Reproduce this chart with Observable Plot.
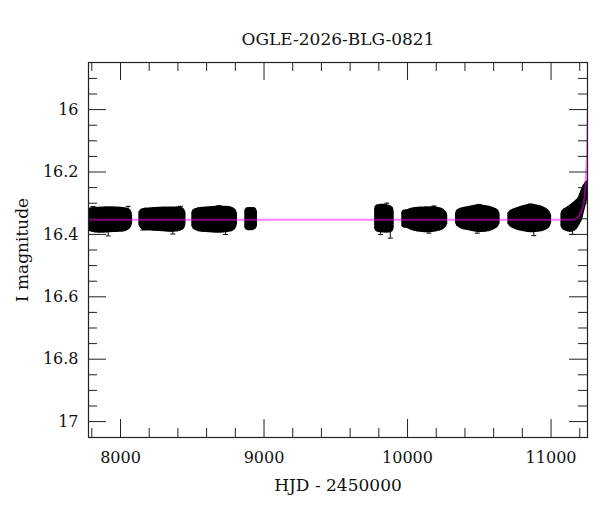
<!DOCTYPE html>
<html><head><meta charset="utf-8">
<script src="https://cdn.jsdelivr.net/npm/d3@7"></script>
<script src="https://cdn.jsdelivr.net/npm/@observablehq/plot@0.6"></script>
<style>html,body{margin:0;padding:0;background:#fff;} svg{display:block;}</style>
</head><body><div id="chart"></div>
<script>
const chartTitle = "OGLE-2026-BLG-0821";
const xLabel = "HJD - 2450000";
const yLabel = "I magnitude";

const xMajor = [8000, 9000, 10000, 11000];
const xMinor = [7800, 8200, 8400, 8600, 8800, 9200, 9400, 9600, 9800, 10200, 10400, 10600, 10800, 11200];
const yMajor = [16, 16.2, 16.4, 16.6, 16.8, 17];
const yMinor = [15.9, 15.95, 16.05, 16.1, 16.15, 16.25, 16.3, 16.35, 16.45, 16.5, 16.55, 16.65, 16.7, 16.75, 16.85, 16.9, 16.95];

// baseline magnitude of the source
const baseline = 16.353;

// observing seasons: envelope of the dense photometry (day, brightest, faintest)
const bandSeason = [
  1,1,1,1,1,1,1,1,1,
  2,2,2,2,2,2,2,2,2,
  3,3,3,3,3,3,3,3,3,
  4,4,4,4,4,
  5,5,5,5,5,5,
  6,6,6,6,6,6,6,6,6,6,
  7,7,7,7,7,7,7,7,7,
  8,8,8,8,8,8,8,8,8,
  9,9,9,9,9,9,9,9,9];
const bandDay = [
  7770,7805,7860,7930,7990,8030,8060,8072,8077,
  8135,8145,8165,8220,8290,8360,8418,8440,8449,
  8504,8512,8546,8615,8685,8755,8785,8802,8808,
  8873,8880,8910,8938,8947,
  9778,9786,9830,9870,9893,9900,
  9967,9975,10000,10030,10090,10160,10207,10242,10265,10273,
  10342,10348,10381,10439,10486,10555,10602,10630,10638,
  10706,10718,10764,10811,10857,10904,10950,10985,10997,
  11076,11085,11108,11136,11171,11192,11213,11227,11250];
const bandTop = [
  16.320,16.318,16.316,16.315,16.316,16.318,16.322,16.330,16.340,
  16.330,16.324,16.320,16.318,16.316,16.316,16.316,16.322,16.332,
  16.332,16.324,16.318,16.315,16.313,16.314,16.318,16.326,16.336,
  16.326,16.319,16.317,16.319,16.328,
  16.318,16.310,16.307,16.310,16.316,16.330,
  16.330,16.326,16.324,16.319,16.316,16.315,16.316,16.321,16.330,16.340,
  16.334,16.326,16.318,16.313,16.309,16.312,16.318,16.326,16.338,
  16.334,16.327,16.318,16.311,16.307,16.309,16.316,16.328,16.342,
  16.335,16.325,16.318,16.309,16.296,16.287,16.264,16.248,16.232];
const bandBottom = [
  16.384,16.390,16.393,16.391,16.390,16.388,16.381,16.372,16.364,
  16.368,16.378,16.384,16.386,16.388,16.390,16.386,16.380,16.366,
  16.372,16.380,16.388,16.391,16.393,16.390,16.386,16.376,16.366,
  16.376,16.383,16.385,16.381,16.372,
  16.380,16.388,16.392,16.392,16.388,16.378,
  16.372,16.376,16.378,16.384,16.390,16.391,16.388,16.383,16.374,16.366,
  16.362,16.370,16.380,16.386,16.390,16.389,16.382,16.372,16.362,
  16.364,16.372,16.383,16.388,16.391,16.390,16.386,16.376,16.362,
  16.372,16.381,16.387,16.390,16.384,16.370,16.351,16.325,16.285];

// individual error bars sticking out of the bands (day, tip magnitude)
const whiskerDay = [7807, 8053, 7914, 8418, 8365, 8156, 8685, 8732, 9855, 9812, 9880, 10184, 10149, 10497, 10486, 10857, 10880, 11150];
const whiskerTip = [16.311, 16.310, 16.405, 16.310, 16.399, 16.386, 16.308, 16.400, 16.300, 16.400, 16.412, 16.309, 16.396, 16.304, 16.396, 16.303, 16.404, 16.400];

// microlensing model curve
const modelDay = [7700, 11100, 11157, 11194, 11217, 11233, 11245, 11252, 11256];
const modelMag = [16.353, 16.353, 16.352, 16.341, 16.319, 16.283, 16.197, 16.106, 16.0];

const bands = bandDay.map((d, i) => ({season: bandSeason[i], day: d, top: bandTop[i], bottom: bandBottom[i]}));
const whiskers = whiskerDay.map((d, i) => ({day: d, tip: whiskerTip[i]}));
const model = modelDay.map((d, i) => ({day: d, mag: modelMag[i]}));

const W = 600, H = 512, ML = 88, MR = 13, MT = 62, MB = 75;
const innerW = W - ML - MR, innerH = H - MT - MB;
const majorLen = 18, minorLen = 9;
const tickColor = "#222";
const font = "DejaVu Serif";

const capSymbol = {draw(ctx, size) { const w = Math.sqrt(size / Math.PI); ctx.moveTo(-w, 0); ctx.lineTo(w, 0); }};

const chart = Plot.plot({
  width: W, height: H,
  marginLeft: ML, marginRight: MR, marginTop: MT, marginBottom: MB,
  style: {fontFamily: font, fontSize: "16px", color: "#111", background: "#fff"},
  x: {domain: [7777, 11254], label: null},
  y: {domain: [15.849, 17.051], reverse: true, label: null},
  marks: [
    Plot.areaY(bands, {x: "day", y1: "top", y2: "bottom", z: "season", fill: "#000", stroke: "#000", strokeWidth: 2.2, strokeDasharray: "1.2,1.3", curve: "catmull-rom", clip: true}),
    Plot.ruleX(whiskers, {x: "day", y1: () => baseline, y2: "tip", stroke: "#000", strokeWidth: 1, clip: true}),
    Plot.dot(whiskers, {x: "day", y: "tip", r: 2.5, symbol: capSymbol, stroke: "#000", strokeWidth: 1, fill: "none", clip: true}),
    Plot.line(model, {x: "day", y: "mag", stroke: "#ff00ff", strokeOpacity: 0.5, strokeWidth: 2, curve: "monotone-x", clip: true}),
    // inward ticks on all four sides
    Plot.ruleX(xMajor, {x: d => d, insetTop: innerH - majorLen, stroke: tickColor}),
    Plot.ruleX(xMajor, {x: d => d, insetBottom: innerH - majorLen, stroke: tickColor}),
    Plot.ruleX(xMinor, {x: d => d, insetTop: innerH - minorLen, stroke: tickColor}),
    Plot.ruleX(xMinor, {x: d => d, insetBottom: innerH - minorLen, stroke: tickColor}),
    Plot.ruleY(yMajor, {y: d => d, insetRight: innerW - majorLen, stroke: tickColor}),
    Plot.ruleY(yMajor, {y: d => d, insetLeft: innerW - majorLen, stroke: tickColor}),
    Plot.ruleY(yMinor, {y: d => d, insetRight: innerW - minorLen, stroke: tickColor}),
    Plot.ruleY(yMinor, {y: d => d, insetLeft: innerW - minorLen, stroke: tickColor}),
    Plot.frame({stroke: tickColor, strokeWidth: 1.2}),
    Plot.axisX(xMajor, {tickSize: 0, tickPadding: 14, tickFormat: d3.format("d"), label: null, fontSize: 16, fill: "#111"}),
    Plot.axisY(yMajor, {tickSize: 0, tickPadding: 10, tickFormat: d => String(+d.toFixed(1)), label: null, fontSize: 16, fill: "#111"}),
    Plot.text([xLabel], {frameAnchor: "bottom", textAnchor: "middle", dy: 53, fontSize: 17, fill: "#111"}),
    Plot.text([yLabel], {frameAnchor: "left", textAnchor: "middle", dx: -66, rotate: -90, fontSize: 17, fill: "#111"}),
    Plot.text([chartTitle], {frameAnchor: "top", textAnchor: "middle", dy: -29.4, fontSize: 17, fill: "#111"})
  ]
});
document.getElementById("chart").appendChild(chart);
</script>
</body></html>
